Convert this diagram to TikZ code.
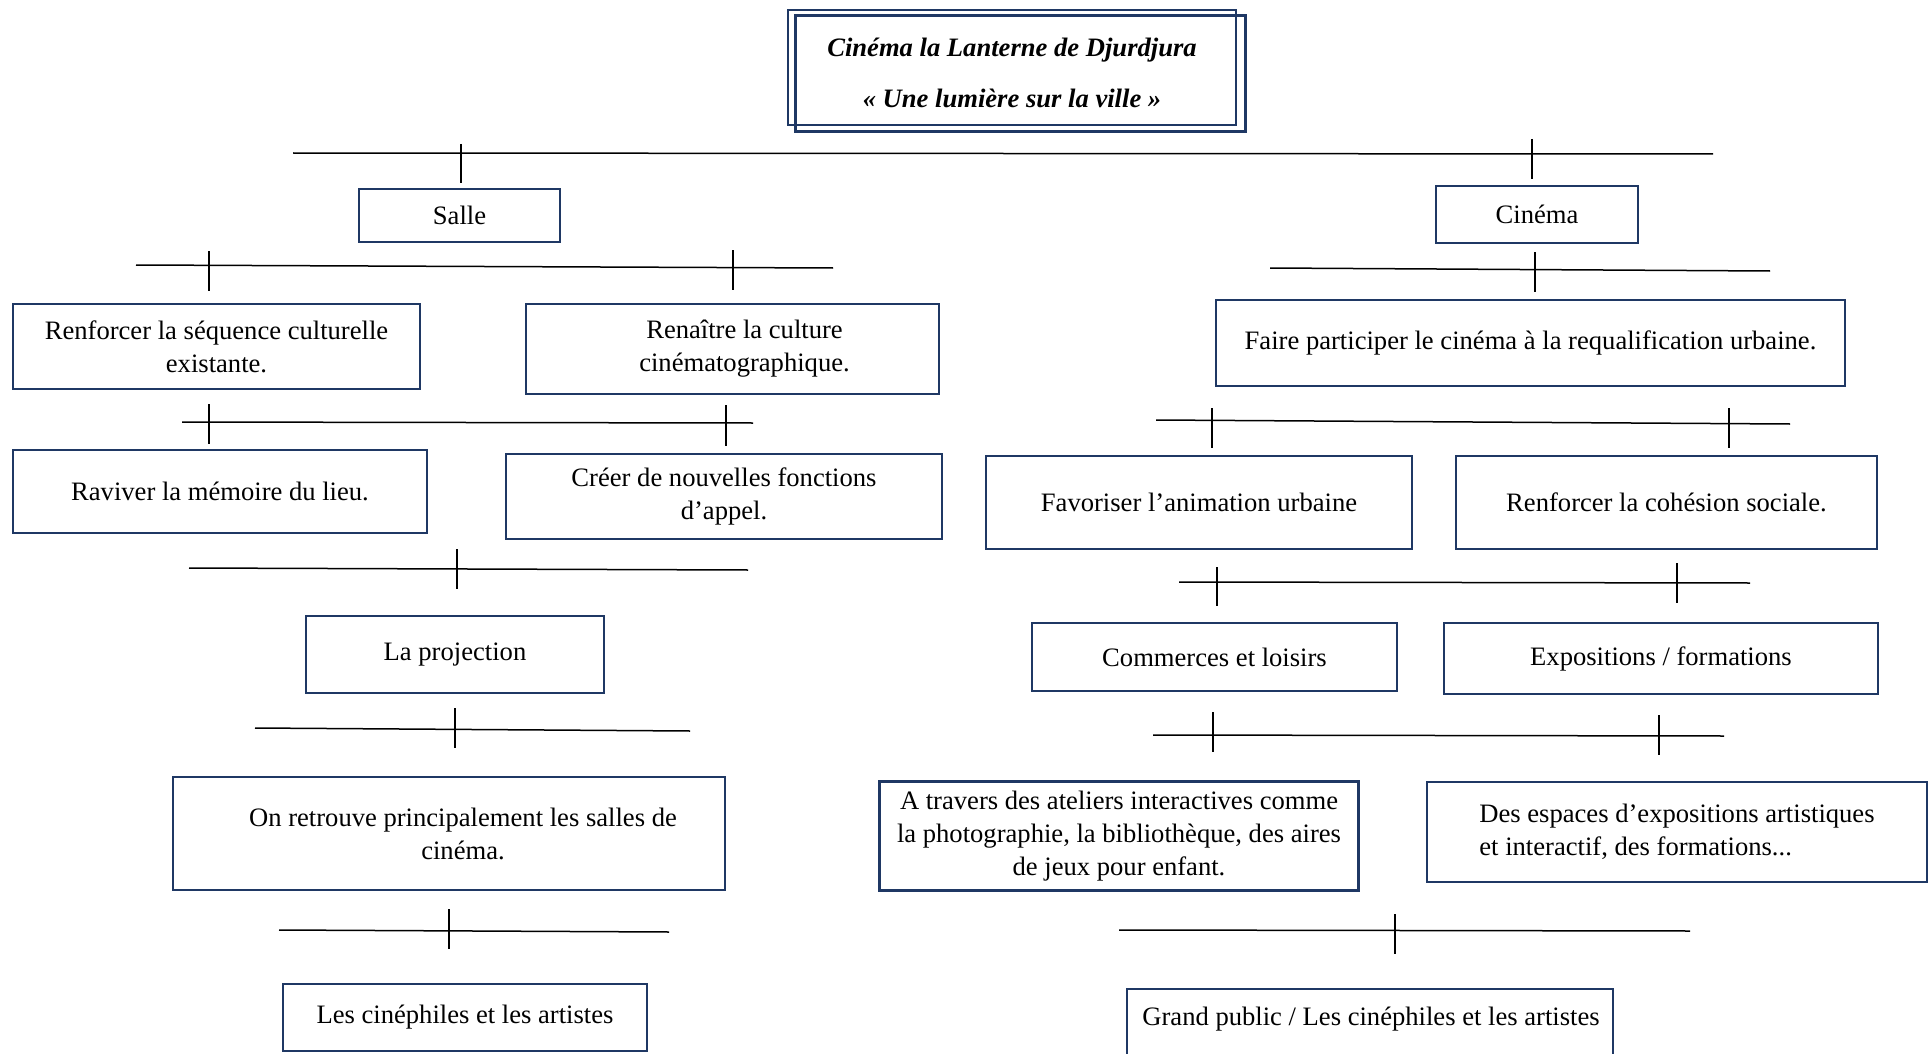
\documentclass[tikz,border=0pt]{standalone}
\usepackage{fontspec}
\setmainfont{Liberation Serif}
\definecolor{navy}{RGB}{31,56,100}
\begin{document}
\begin{tikzpicture}[x=0.5pt,y=-0.5pt,
  box/.style={draw=navy,line width=1.1pt,align=center,inner sep=0pt,font=\fontsize{13.3}{16.5}\selectfont},
  txt/.style={align=center,inner sep=0pt,font=\fontsize{13.3}{16.5}\selectfont},
  bar/.style={line width=0.75pt},
  tickline/.style={line width=0.55pt}]
\useasboundingbox (0,0) rectangle (1928,1054);
\clip (0,0) rectangle (1928,1054);

% ---------- title ----------
\node[box,minimum width=224pt,minimum height=57.5pt] (title1) at (1012,67.5) {};
\node[box,minimum width=225pt,minimum height=58pt] (title2) at (1020.5,73.5) {};
\node[align=center,inner sep=0pt,font=\bfseries\itshape\fontsize{13.3}{25.5}\selectfont] (titletext) at (1012,72.5)
  {Cinéma la Lanterne de Djurdjura\\« Une lumière sur la ville »};

% ---------- left branch ----------
\node[box,minimum width=100.5pt,minimum height=26.5pt] (salle) at (459.5,215.5) {Salle};
\node[box,minimum width=203.5pt,minimum height=42.5pt] (renf) at (216.5,346.5) {Renforcer la séquence culturelle\\existante.};
\node[box,minimum width=206.5pt,minimum height=45pt] (renait) at (732.5,349) {\hspace*{12pt}Renaître la culture\\\hspace*{12pt}cinématographique.};
\node[box,minimum width=207pt,minimum height=41.5pt] (raviv) at (220,491.5) {Raviver la mémoire du lieu.};
\node[box,minimum width=218pt,minimum height=42.5pt] (creer) at (724,496.5) {Créer de nouvelles fonctions\\d’appel.};
\node[box,minimum width=149pt,minimum height=38.5pt] (proj) at (455,654.5) {La projection};
\node[box,minimum width=276pt,minimum height=56.5pt] (retr) at (449,833.5) {\hspace*{14pt}On retrouve principalement les salles de\\\hspace*{14pt}cinéma.};
\node[box,minimum width=182pt,minimum height=33.5pt] (ciph) at (465,1017.5) {Les cinéphiles et les artistes};

% ---------- right branch ----------
\node[box,minimum width=101pt,minimum height=28.5pt] (cine) at (1537,214.5) {Cinéma};
\node[box,minimum width=314.5pt,minimum height=43pt] (faire) at (1530.5,343) {Faire participer le cinéma à la requalification urbaine.};
\node[box,minimum width=213pt,minimum height=46.5pt] (favo) at (1199,502.5) {Favoriser l’animation urbaine};
\node[box,minimum width=210.5pt,minimum height=46.5pt] (cohe) at (1666.5,502.5) {Renforcer la cohésion sociale.};
\node[box,minimum width=182.5pt,minimum height=34pt] (comm) at (1214.5,657) {Commerces et loisirs};
\node[box,minimum width=217pt,minimum height=35.5pt] (expo) at (1661,658.5) {Expositions / formations};
\node[box,minimum width=239.5pt,minimum height=54.5pt] (atra) at (1119,836) {A travers des ateliers interactives comme\\la photographie, la bibliothèque, des aires\\de jeux pour enfant.};
\node[box,align=left,minimum width=250pt,minimum height=50pt] (espa) at (1677,832) {Des espaces d’expositions artistiques\\et interactif, des formations...};
\node[box,minimum width=243pt,minimum height=45pt,anchor=north] (grand) at (1370,988) {};
\node[txt] (grandtext) at (1371,1019) {Grand public / Les cinéphiles et les artistes};

% ---------- bar coordinates ----------
\coordinate (b1l) at (293,153);   \coordinate (b1r) at (1713,154);
\coordinate (k1at) at (461,144);  \coordinate (k1ab) at (461,183);
\coordinate (k1bt) at (1532,139); \coordinate (k1bb) at (1532,179);

\coordinate (b2l) at (136,265);   \coordinate (b2r) at (833,268);
\coordinate (k2at) at (209,251);  \coordinate (k2ab) at (209,291);
\coordinate (k2bt) at (733,250);  \coordinate (k2bb) at (733,290);

\coordinate (b3l) at (182,422);   \coordinate (b3r) at (753,423);
\coordinate (k3at) at (209,404);  \coordinate (k3ab) at (209,444);
\coordinate (k3bt) at (726,405);  \coordinate (k3bb) at (726,446);

\coordinate (b4l) at (189,568);   \coordinate (b4r) at (748,570);
\coordinate (k4t) at (457,549);   \coordinate (k4b) at (457,589);

\coordinate (b5l) at (255,728);   \coordinate (b5r) at (690,731);
\coordinate (k5t) at (455,708);   \coordinate (k5b) at (455,748);

\coordinate (b6l) at (279,930);   \coordinate (b6r) at (669,932);
\coordinate (k6t) at (449,909);   \coordinate (k6b) at (449,949);

\coordinate (b7l) at (1270,268);  \coordinate (b7r) at (1770,271);
\coordinate (k7t) at (1535,252);  \coordinate (k7b) at (1535,292);

\coordinate (b8l) at (1156,420);  \coordinate (b8r) at (1790,424);
\coordinate (k8at) at (1212,408); \coordinate (k8ab) at (1212,448);
\coordinate (k8bt) at (1729,408); \coordinate (k8bb) at (1729,448);

\coordinate (b9l) at (1179,582);  \coordinate (b9r) at (1750,583);
\coordinate (k9at) at (1217,567); \coordinate (k9ab) at (1217,606);
\coordinate (k9bt) at (1677,563); \coordinate (k9bb) at (1677,603);

\coordinate (b10l) at (1153,735); \coordinate (b10r) at (1724,736);
\coordinate (k10at) at (1213,712); \coordinate (k10ab) at (1213,752);
\coordinate (k10bt) at (1659,715); \coordinate (k10bb) at (1659,755);

\coordinate (b11l) at (1119,930); \coordinate (b11r) at (1690,931);
\coordinate (k11t) at (1395,914); \coordinate (k11b) at (1395,954);

% ---------- bars ----------
\foreach \b in {1,...,11} \draw[bar] (b\b l) -- (b\b r);
\foreach \k in {1a,1b,2a,2b,3a,3b,8a,8b,9a,9b,10a,10b,4,5,6,7,11}
  \draw[tickline] (k\k t) -- (k\k b);
\end{tikzpicture}
\end{document}
